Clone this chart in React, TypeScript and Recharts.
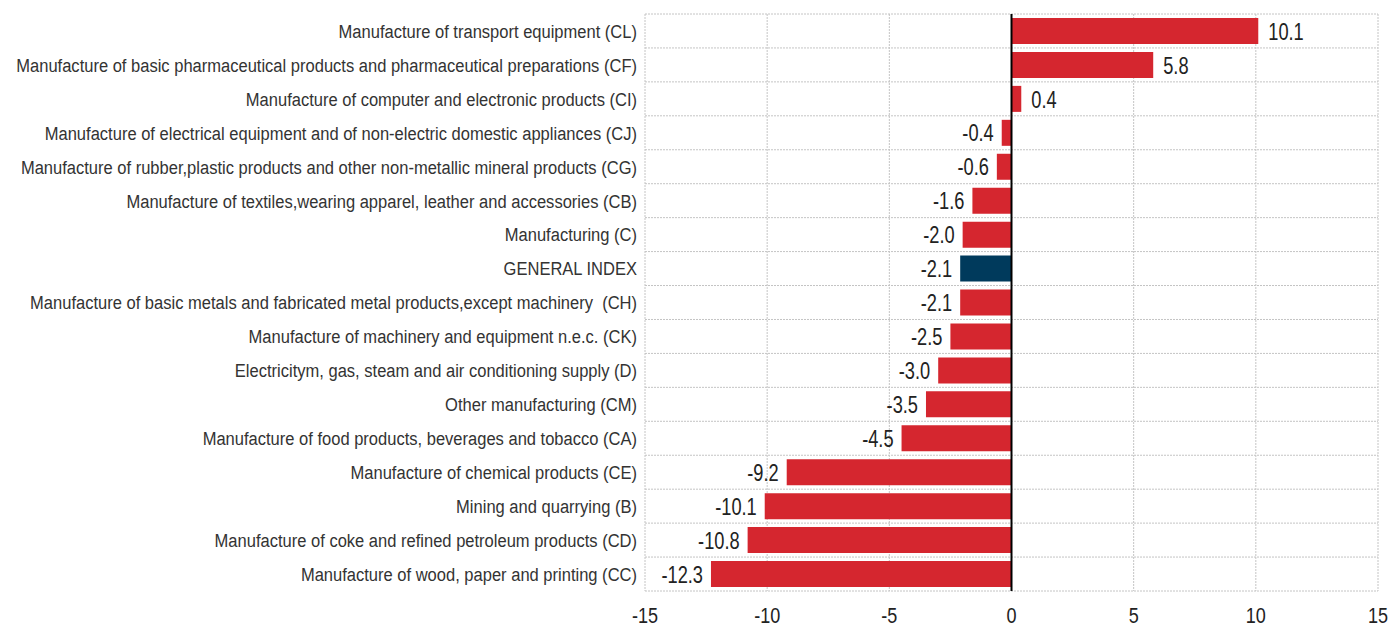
import React from "react";
import {
  BarChart,
  Bar,
  XAxis,
  YAxis,
  CartesianGrid,
  ReferenceLine,
  LabelList,
  Cell,
} from "recharts";

const categories = [
  "Manufacture of transport equipment (CL)",
  "Manufacture of basic pharmaceutical products and pharmaceutical preparations (CF)",
  "Manufacture of computer and electronic products (CI)",
  "Manufacture of electrical equipment and of non-electric domestic appliances (CJ)",
  "Manufacture of rubber,plastic products and other non-metallic mineral products (CG)",
  "Manufacture of textiles,wearing apparel, leather and accessories (CB)",
  "Manufacturing (C)",
  "GENERAL INDEX",
  "Manufacture of basic metals and fabricated metal products,except machinery  (CH)",
  "Manufacture of machinery and equipment n.e.c. (CK)",
  "Electricitym, gas, steam and air conditioning supply (D)",
  "Other manufacturing (CM)",
  "Manufacture of food products, beverages and tobacco (CA)",
  "Manufacture of chemical products (CE)",
  "Mining and quarrying (B)",
  "Manufacture of coke and refined petroleum products (CD)",
  "Manufacture of wood, paper and printing (CC)",
];

const values = [
  10.1, 5.8, 0.4, -0.4, -0.6, -1.6, -2.0, -2.1, -2.1, -2.5, -3.0, -3.5, -4.5,
  -9.2, -10.1, -10.8, -12.3,
];

const xTicks = [-15, -10, -5, 0, 5, 10, 15];
const highlight = "GENERAL INDEX";

const RED = "#d5262f";
const BLUE = "#003a5c";
const FONT = "'Liberation Sans', Arial, sans-serif";

const data = categories.map((name, i) => ({ name, value: values[i] }));

// narrow text: Arial squeezed horizontally around its anchor point
function NarrowText({ x, y, anchor, size, squeeze, fill, dy, children }: any) {
  return (
    <text
      transform={`translate(${x},${y}) scale(${squeeze},1)`}
      textAnchor={anchor}
      fontSize={size}
      fontFamily={FONT}
      fill={fill}
      dy={dy}
      style={{ whiteSpace: "pre" }}
    >
      {children}
    </text>
  );
}

function CategoryTick(props: any) {
  const { x, y, payload } = props;
  return (
    <NarrowText x={x} y={y} anchor="end" size={19} squeeze={0.87} fill="#333" dy="0.36em">
      {payload.value}
    </NarrowText>
  );
}

function XTick(props: any) {
  const { x, y, payload } = props;
  return (
    <NarrowText x={x} y={y + 8} anchor="middle" size={22} squeeze={0.82} fill="#222" dy="0.71em">
      {payload.value}
    </NarrowText>
  );
}

function ValueLabel(props: any) {
  const { x, y, width, height, value } = props;
  const left = Math.min(x, x + width);
  const right = Math.max(x, x + width);
  const neg = value < 0;
  return (
    <NarrowText
      x={neg ? left - 8 : right + 10}
      y={y + height / 2}
      anchor={neg ? "end" : "start"}
      size={24}
      squeeze={0.76}
      fill="#222"
      dy="0.36em"
    >
      {Number(value).toFixed(1)}
    </NarrowText>
  );
}

export default function App() {
  return (
    <div style={{ position: "absolute", left: 0, top: 0, background: "#fff" }}>
      <BarChart
        width={1392}
        height={628}
        data={data}
        layout="vertical"
        margin={{ top: 14, right: 14, bottom: 0, left: 0 }}
        barCategoryGap={4}
      >
        <CartesianGrid
          stroke="#c4c4c4"
          strokeDasharray="2 1"
          horizontalCoordinatesGenerator={({ offset }: any) =>
            categories
              .map((_, i) => offset.top + (offset.height * i) / categories.length)
              .concat(offset.top + offset.height)
          }
        />
        <XAxis
          type="number"
          domain={[-15, 15]}
          ticks={xTicks}
          height={37}
          axisLine={false}
          tickLine={false}
          tick={<XTick />}
        />
        <YAxis
          type="category"
          dataKey="name"
          width={645}
          axisLine={false}
          tickLine={false}
          interval={0}
          tickMargin={2}
          tick={<CategoryTick />}
        />
        <Bar dataKey="value" isAnimationActive={false}>
          {data.map((d) => (
            <Cell key={d.name} fill={d.name === highlight ? BLUE : RED} />
          ))}
          <LabelList dataKey="value" content={<ValueLabel />} />
        </Bar>
        <ReferenceLine x={0} stroke="#000" strokeWidth={2} />
      </BarChart>
    </div>
  );
}
